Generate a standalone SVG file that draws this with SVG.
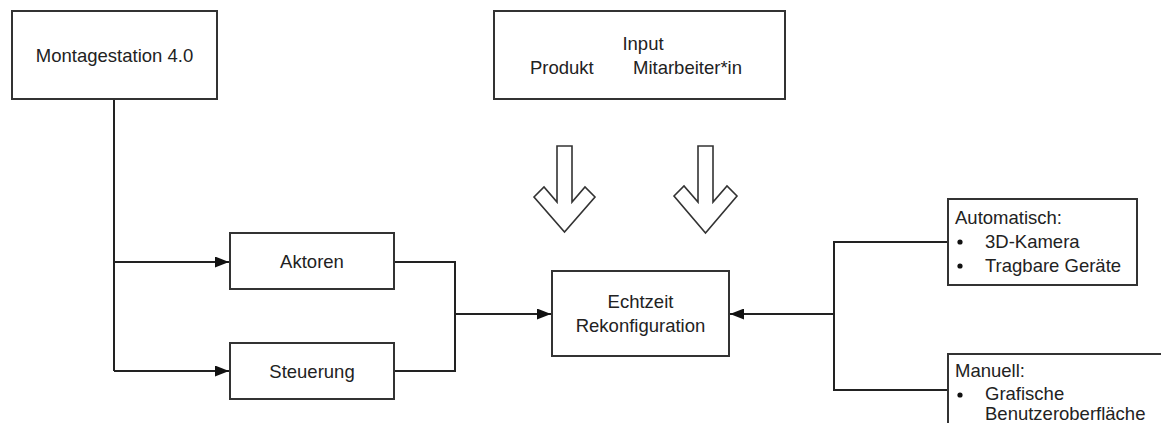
<svg xmlns="http://www.w3.org/2000/svg" width="1161" height="423" viewBox="0 0 1161 423">
<style>
.box{fill:#fff;stroke:#333;stroke-width:2}
.t{font-family:"Liberation Sans",Arial,sans-serif;font-size:18.5px;fill:#222}
.c{text-anchor:middle}
.ln{fill:none;stroke:#222;stroke-width:2}
.big{fill:#fff;stroke:#333;stroke-width:1.6;stroke-linejoin:miter}
</style>
<defs>
<marker id="ah" viewBox="0 0 14 11" refX="14" refY="5.5" markerWidth="14" markerHeight="11" markerUnits="userSpaceOnUse" orient="auto">
<path d="M0,0 L14,5.5 L0,11 z" fill="#111"/>
</marker>
</defs>
<rect width="1161" height="423" fill="#fff"/>
<g id="connectors">
<path class="ln" d="M114,99 V371"/>
<path class="ln" d="M114,262 H229" marker-end="url(#ah)"/>
<path class="ln" d="M114,371 H229" marker-end="url(#ah)"/>
<path class="ln" d="M394,262 H455 V371 H394"/>
<path class="ln" d="M455,314 H551" marker-end="url(#ah)"/>
<path class="ln" d="M948,242 H834 V390 H948"/>
<path class="ln" d="M834,314 H730" marker-end="url(#ah)"/>
</g>
<g id="montagestation">
<rect class="box" x="12" y="11" width="205" height="88"/>
<text class="t c" x="114.5" y="62">Montagestation 4.0</text>
</g>
<g id="input">
<rect class="box" x="494" y="11" width="291" height="88"/>
<text class="t c" x="643" y="50">Input</text>
<text class="t" x="530" y="74">Produkt</text>
<text class="t" x="633" y="74">Mitarbeiter*in</text>
</g>
<g id="arrow1">
<path class="big" d="M557,146 H572 V202 L585,187 L595,197 L564.5,232 L534,197 L544,187 L557,202 Z"/>
</g>
<g id="arrow2">
<path class="big" d="M698,146 H713 V202 L727,186 L737,196 L705.5,233 L674,196 L684,186 L698,202 Z"/>
</g>
<g id="aktoren">
<rect class="box" x="230" y="233" width="164" height="56"/>
<text class="t c" x="312" y="268">Aktoren</text>
</g>
<g id="steuerung">
<rect class="box" x="230" y="343" width="164" height="56"/>
<text class="t c" x="312" y="378">Steuerung</text>
</g>
<g id="echtzeit">
<rect class="box" x="552" y="271" width="177" height="85"/>
<text class="t c" x="640.5" y="308">Echtzeit</text>
<text class="t c" x="640.5" y="332">Rekonfiguration</text>
</g>
<g id="automatisch">
<rect class="box" x="948" y="199" width="189" height="86"/>
<text class="t" x="955" y="224">Automatisch:</text>
<circle cx="960" cy="242" r="2.6" fill="#111"/>
<text class="t" x="985" y="248">3D-Kamera</text>
<circle cx="960" cy="266" r="2.6" fill="#111"/>
<text class="t" x="985" y="272">Tragbare Geräte</text>
</g>
<g id="manuell">
<rect class="box" x="948" y="354" width="230" height="90"/>
<text class="t" x="955" y="377">Manuell:</text>
<circle cx="960" cy="395" r="2.6" fill="#111"/>
<text class="t" x="985" y="400">Grafische</text>
<text class="t" x="985" y="420">Benutzeroberfläche</text>
</g>
</svg>
